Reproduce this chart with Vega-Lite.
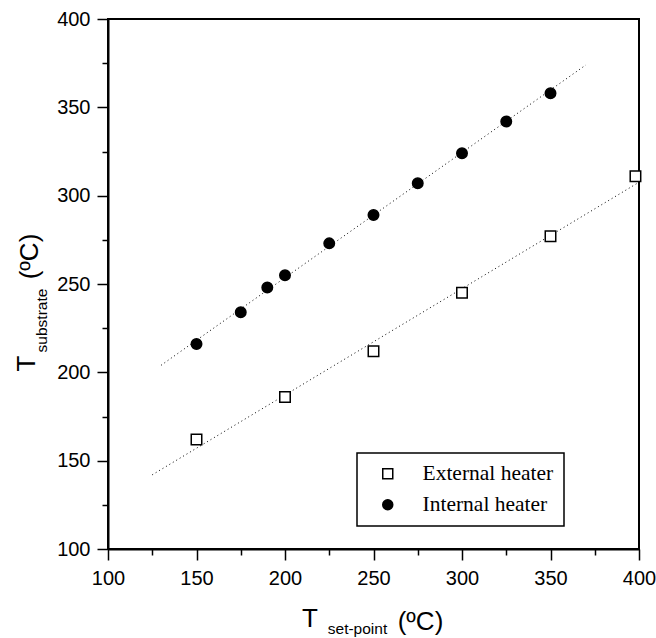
{
  "$schema": "https://vega.github.io/schema/vega-lite/v6.json",
  "width": 531,
  "height": 530,
  "autosize": {"type": "none"},
  "padding": {"left": 108, "top": 19, "right": 17, "bottom": 89},
  "background": "white",
  "config": {
    "view": {"stroke": "black", "strokeWidth": 2},
    "legend": {"strokeWidth": 1.5},
    "axis": {
      "grid": false,
      "domainColor": "black",
      "tickColor": "black",
      "labelColor": "black",
      "titleColor": "black",
      "labelFont": "Liberation Sans",
      "titleFont": "Liberation Sans",
      "titleFontWeight": "normal",
      "titleAlign": "center",
      "titleBaseline": "alphabetic",
      "labelFlush": false,
      "labelOverlap": false
    }
  },
  "datasets": {
    "pts": [
      {"x": 150, "y": 162, "series": "External heater"},
      {"x": 200, "y": 186, "series": "External heater"},
      {"x": 250, "y": 212, "series": "External heater"},
      {"x": 300, "y": 245, "series": "External heater"},
      {"x": 350, "y": 277, "series": "External heater"},
      {"x": 398, "y": 311, "series": "External heater"},
      {"x": 150, "y": 216, "series": "Internal heater"},
      {"x": 175, "y": 234, "series": "Internal heater"},
      {"x": 190, "y": 248, "series": "Internal heater"},
      {"x": 200, "y": 255, "series": "Internal heater"},
      {"x": 225, "y": 273, "series": "Internal heater"},
      {"x": 250, "y": 289, "series": "Internal heater"},
      {"x": 275, "y": 307, "series": "Internal heater"},
      {"x": 300, "y": 324, "series": "Internal heater"},
      {"x": 325, "y": 342, "series": "Internal heater"},
      {"x": 350, "y": 358, "series": "Internal heater"}
    ],
    "fitExt": [
      {"x": 125, "y": 142},
      {"x": 399, "y": 307}
    ],
    "fitInt": [
      {"x": 130, "y": 204},
      {"x": 370, "y": 374}
    ]
  },
  "resolve": {"axis": {"x": "independent", "y": "independent"}},
  "layer": [
    {
      "data": {"name": "fitExt"},
      "mark": {"type": "line", "stroke": "black", "strokeWidth": 1, "strokeDash": [1, 3]},
      "encoding": {
        "x": {
          "field": "x", "type": "quantitative",
          "scale": {"domain": [100, 400], "nice": false, "zero": false},
          "axis": {"orient": "bottom", "domain": false, "ticks": false, "labels": false,
                   "title": "(ºC)", "titleFontSize": 26, "titleX": 312, "titleY": 80}
        },
        "y": {
          "field": "y", "type": "quantitative",
          "scale": {"domain": [100, 400], "nice": false, "zero": false},
          "axis": {"orient": "left", "domain": false, "ticks": false, "labels": false,
                   "title": "(ºC)", "titleFontSize": 26, "titleAngle": 270, "titleX": -71, "titleY": 237}
        }
      }
    },
    {
      "data": {"name": "fitInt"},
      "mark": {"type": "line", "stroke": "black", "strokeWidth": 1, "strokeDash": [1, 3]},
      "encoding": {
        "x": {
          "field": "x", "type": "quantitative",
          "scale": {"domain": [100, 400], "nice": false, "zero": false},
          "axis": {"orient": "bottom", "domain": false, "labels": false,
                   "values": [125, 175, 225, 275, 325, 375], "tickSize": 6, "tickWidth": 1.5,
                   "title": "set-point", "titleFontSize": 15.5, "titleX": 249, "titleY": 84}
        },
        "y": {
          "field": "y", "type": "quantitative",
          "scale": {"domain": [100, 400], "nice": false, "zero": false},
          "axis": {"orient": "left", "domain": false, "labels": false,
                   "values": [125, 175, 225, 275, 325, 375], "tickSize": 6, "tickWidth": 1.5,
                   "title": "substrate", "titleFontSize": 15.5, "titleAngle": 270, "titleX": -62, "titleY": 301}
        }
      }
    },
    {
      "data": {"name": "pts"},
      "mark": {"type": "point", "stroke": "black", "strokeWidth": 1.5, "size": 110, "opacity": 1},
      "encoding": {
        "x": {
          "field": "x", "type": "quantitative",
          "scale": {"domain": [100, 400], "nice": false, "zero": false},
          "axis": {"orient": "bottom", "values": [100, 150, 200, 250, 300, 350, 400],
                   "tickSize": 11, "tickWidth": 1.5, "domainWidth": 2,
                   "labelFontSize": 20, "labelPadding": 8,
                   "title": "T", "titleFontSize": 26, "titleX": 201.5, "titleY": 77.7}
        },
        "y": {
          "field": "y", "type": "quantitative",
          "scale": {"domain": [100, 400], "nice": false, "zero": false},
          "axis": {"orient": "left", "values": [100, 150, 200, 250, 300, 350, 400],
                   "tickSize": 11, "tickWidth": 1.5, "domainWidth": 2,
                   "labelFontSize": 20, "labelPadding": 7,
                   "title": "T", "titleFontSize": 26, "titleAngle": 270, "titleX": -74, "titleY": 344}
        },
        "shape": {
          "field": "series", "type": "nominal",
          "scale": {"domain": ["External heater", "Internal heater"], "range": ["square", "circle"]},
          "legend": {"title": null, "orient": "none", "legendX": 249, "legendY": 434, "padding": 10,
                     "strokeColor": "black", "fillColor": "white",
                     "labelFont": "Liberation Serif", "labelFontSize": 21.5, "labelColor": "black",
                     "labelOffset": 24, "symbolOffset": 10, "symbolSize": 100,
                     "symbolStrokeWidth": 1.5, "symbolStrokeColor": "black", "rowPadding": 8}
        },
        "fill": {
          "field": "series", "type": "nominal",
          "scale": {"domain": ["External heater", "Internal heater"], "range": ["white", "black"]},
          "legend": {"title": null, "orient": "none", "legendX": 249, "legendY": 434, "padding": 10,
                     "strokeColor": "black", "fillColor": "white",
                     "labelFont": "Liberation Serif", "labelFontSize": 21.5, "labelColor": "black",
                     "labelOffset": 24, "symbolOffset": 10, "symbolSize": 100,
                     "symbolStrokeWidth": 1.5, "symbolStrokeColor": "black", "rowPadding": 8}
        },
        "stroke": {
          "field": "series", "type": "nominal",
          "scale": {"domain": ["External heater", "Internal heater"], "range": ["black", "black"]},
          "legend": {"title": null, "orient": "none", "legendX": 249, "legendY": 434, "padding": 10,
                     "strokeColor": "black", "fillColor": "white",
                     "labelFont": "Liberation Serif", "labelFontSize": 21.5, "labelColor": "black",
                     "labelOffset": 24, "symbolOffset": 10, "symbolSize": 100,
                     "symbolStrokeWidth": 1.5, "symbolStrokeColor": "black", "rowPadding": 8}
        }
      }
    }
  ]
}
